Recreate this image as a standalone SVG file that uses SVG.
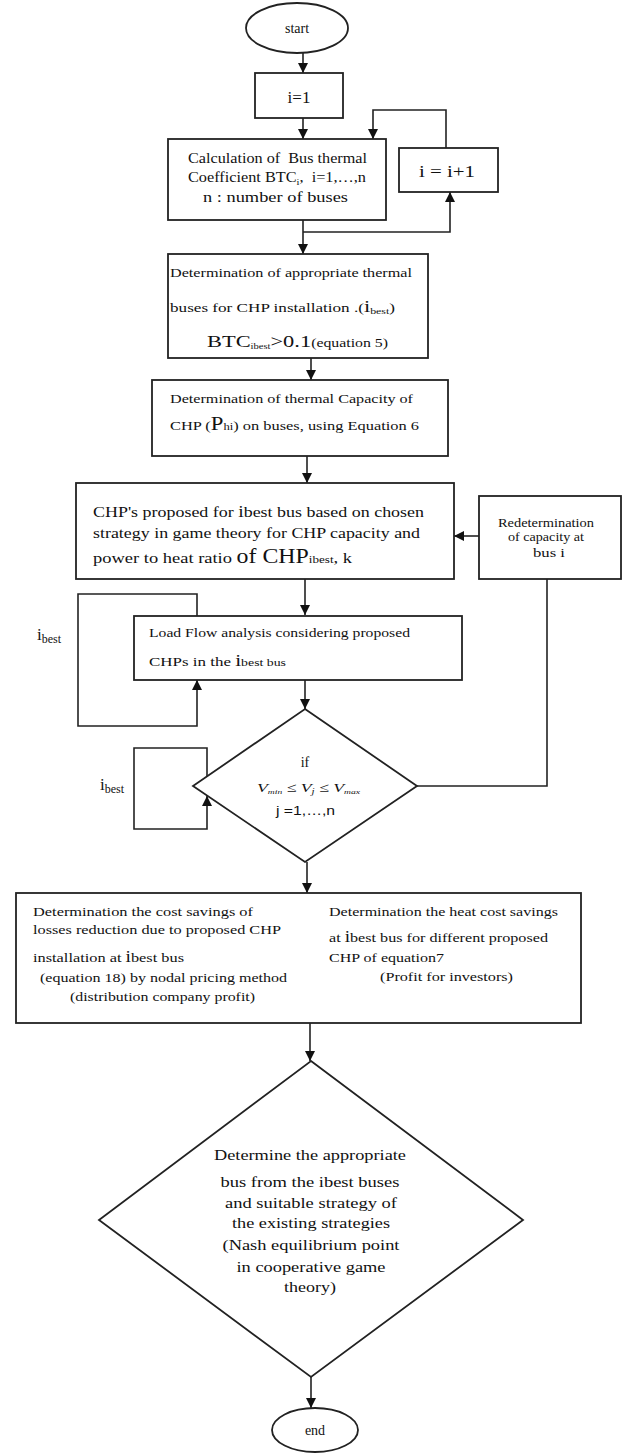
<svg xmlns="http://www.w3.org/2000/svg" width="641" height="1453" viewBox="0 0 641 1453">
<style>
.s{fill:#fff;stroke:#222;stroke-width:1.8}
.c{fill:none;stroke:#222;stroke-width:1.6}
text{font-family:"Liberation Serif","Times New Roman",serif;fill:#111}
.f13{font-size:13px}
.f14{font-size:14px}
.f15{font-size:15px}
</style>
<defs>
<marker id="ah" markerUnits="userSpaceOnUse" markerWidth="10" markerHeight="10" refX="10" refY="5" orient="auto">
<path d="M0,0 L10,5 L0,10 z" fill="#111"/>
</marker>
</defs>
<rect width="641" height="1453" fill="#fff"/>

<g id="connectors">
<line class="c" x1="303" y1="53" x2="303" y2="73" marker-end="url(#ah)"/>
<line class="c" x1="303" y1="118" x2="303" y2="139" marker-end="url(#ah)"/>
<line class="c" x1="303" y1="220" x2="303" y2="254" marker-end="url(#ah)"/>
<polyline class="c" points="303,232 450,232 450,192" marker-end="url(#ah)"/>
<polyline class="c" points="446,148 446,110 373,110 373,139" marker-end="url(#ah)"/>
<line class="c" x1="311" y1="358" x2="311" y2="380" marker-end="url(#ah)"/>
<line class="c" x1="307" y1="456" x2="307" y2="483" marker-end="url(#ah)"/>
<line class="c" x1="305" y1="579" x2="305" y2="615" marker-end="url(#ah)"/>
<line class="c" x1="305" y1="680" x2="305" y2="709" marker-end="url(#ah)"/>
<line class="c" x1="479" y1="536" x2="454" y2="536" marker-end="url(#ah)"/>
<polyline class="c" points="417,786 547,786 547,579"/>
<polyline class="c" points="197,616 197,594 78,594 78,726 197,726 197,680" marker-end="url(#ah)"/>
<polyline class="c" points="207,777 207,748 134,748 134,829 207,829 207,796" marker-end="url(#ah)"/>
<line class="c" x1="307" y1="862" x2="307" y2="893" marker-end="url(#ah)"/>
<line class="c" x1="310" y1="893" x2="310" y2="1061" marker-end="url(#ah)"/>
<line class="c" x1="311" y1="1377" x2="311" y2="1408" marker-end="url(#ah)"/>
</g>

<g id="start">
<ellipse class="s" cx="297" cy="28" rx="51" ry="25"/>
<text class="f14" x="297" y="33" text-anchor="middle">start</text>
</g>

<g id="init">
<rect class="s" x="255" y="73" width="88" height="45"/>
<text x="299" y="103" text-anchor="middle" font-size="17">i=1</text>
</g>

<g id="calc">
<rect class="s" x="168" y="139" width="218" height="81"/>
<text class="f14" x="188" y="163" textLength="179" lengthAdjust="spacingAndGlyphs" xml:space="preserve">Calculation of  Bus thermal</text>
<text class="f14" x="188" y="182" textLength="178" lengthAdjust="spacingAndGlyphs" xml:space="preserve">Coefficient BTC<tspan font-size="9" dy="3">i</tspan><tspan dy="-3">,  i=1,…,n</tspan></text>
<text class="f15" x="203" y="202" textLength="145" lengthAdjust="spacingAndGlyphs">n : number of buses</text>
</g>

<g id="incr">
<rect class="s" x="399" y="148" width="99" height="44"/>
<text x="419" y="177" font-size="16" textLength="56" lengthAdjust="spacingAndGlyphs">i = i+1</text>
</g>

<g id="determ">
<rect class="s" x="168" y="254" width="260" height="104"/>
<text class="f13" x="170" y="277" textLength="242" lengthAdjust="spacingAndGlyphs">Determination of appropriate thermal</text>
<text class="f13" x="170" y="312" textLength="225" lengthAdjust="spacingAndGlyphs">buses for CHP installation .(<tspan font-size="17">i</tspan><tspan font-size="9" dy="2">best</tspan><tspan dy="-2">)</tspan></text>
<text x="207" y="347" textLength="181" lengthAdjust="spacingAndGlyphs"><tspan font-size="17">BTC</tspan><tspan font-size="8" dy="2">ibest</tspan><tspan font-size="17" dy="-2">&gt;0.1</tspan><tspan font-size="12">(equation 5)</tspan></text>
</g>

<g id="thermal">
<rect class="s" x="152" y="380" width="296" height="76"/>
<text class="f13" x="170" y="403" textLength="243" lengthAdjust="spacingAndGlyphs">Determination of thermal Capacity of</text>
<text class="f13" x="170" y="430" textLength="249" lengthAdjust="spacingAndGlyphs">CHP (<tspan font-size="18">P</tspan><tspan font-size="10">hi</tspan>) on buses, using Equation 6</text>
</g>

<g id="chp">
<rect class="s" x="76" y="483" width="378" height="96"/>
<text x="93" y="517" font-size="15.5" textLength="331" lengthAdjust="spacingAndGlyphs">CHP's proposed for <tspan font-size="17">i</tspan>best bus based on chosen</text>
<text x="93" y="538" font-size="15.5" textLength="327" lengthAdjust="spacingAndGlyphs">strategy in game theory for CHP capacity and</text>
<text x="93" y="563" font-size="15.5" textLength="259" lengthAdjust="spacingAndGlyphs">power to heat ratio <tspan font-size="20">of CHP</tspan><tspan font-size="11">ibest</tspan>, k</text>
</g>

<g id="redet">
<rect class="s" x="479" y="496" width="142" height="83"/>
<text x="546" y="527" font-size="12.5" text-anchor="middle" textLength="96" lengthAdjust="spacingAndGlyphs">Redetermination</text>
<text x="546" y="541" font-size="12.5" text-anchor="middle" textLength="76" lengthAdjust="spacingAndGlyphs">of capacity at</text>
<text x="549" y="557" font-size="12.5" text-anchor="middle" textLength="32" lengthAdjust="spacingAndGlyphs">bus i</text>
</g>

<g id="loadflow">
<rect class="s" x="134" y="616" width="328" height="64"/>
<text x="149" y="637" font-size="13.5" textLength="261" lengthAdjust="spacingAndGlyphs">Load Flow analysis considering proposed</text>
<text x="149" y="666" font-size="13.5" textLength="137" lengthAdjust="spacingAndGlyphs">CHPs in the <tspan font-size="17">i</tspan><tspan font-size="11">best bus</tspan></text>
</g>

<g id="label-ibest-1">
<text x="37" y="640" font-size="17">i<tspan font-size="12" dy="3">best</tspan></text>
</g>

<g id="voltage-check">
<polygon class="s" points="305,709 417,786 305,862 193,786"/>
<text x="305" y="767" font-size="14" text-anchor="middle">if</text>
<text x="257" y="792" font-size="13" font-style="italic" textLength="103" lengthAdjust="spacingAndGlyphs">V<tspan font-size="7" dy="2">min</tspan><tspan dy="-2"> ≤ V</tspan><tspan font-size="8" dy="2">j</tspan><tspan dy="-2"> ≤ V</tspan><tspan font-size="7" dy="2">max</tspan></text>
<text x="276" y="815" font-size="13" style="font-family:'Liberation Sans',Arial,sans-serif" textLength="59" lengthAdjust="spacingAndGlyphs">j =1,…,n</text>
</g>

<g id="label-ibest-2">
<text x="100" y="790" font-size="17">i<tspan font-size="12" dy="3">best</tspan></text>
</g>

<g id="savings">
<rect class="s" x="16" y="893" width="565" height="130"/>
<text x="33" y="916" font-size="13.5" textLength="220" lengthAdjust="spacingAndGlyphs">Determination the cost savings of</text>
<text x="33" y="934" font-size="13.5" textLength="248" lengthAdjust="spacingAndGlyphs">losses reduction due to proposed CHP</text>
<text x="33" y="962" font-size="13.5" textLength="151" lengthAdjust="spacingAndGlyphs">installation at <tspan font-size="16">i</tspan>best bus</text>
<text x="40" y="982" font-size="13.5" textLength="247" lengthAdjust="spacingAndGlyphs">(equation 18) by nodal pricing method</text>
<text x="70" y="1001" font-size="13.5" textLength="185" lengthAdjust="spacingAndGlyphs">(distribution company profit)</text>
<text x="329" y="916" font-size="13.5" textLength="229" lengthAdjust="spacingAndGlyphs">Determination the heat cost savings</text>
<text x="329" y="942" font-size="13.5" textLength="219" lengthAdjust="spacingAndGlyphs">at <tspan font-size="16">i</tspan>best bus for different proposed</text>
<text x="329" y="962" font-size="13.5" textLength="115" lengthAdjust="spacingAndGlyphs">CHP of equation7</text>
<text x="380" y="981" font-size="13.5" textLength="133" lengthAdjust="spacingAndGlyphs">(Profit for investors)</text>
</g>

<g id="decision">
<polygon class="s" points="311,1061 523,1220 311,1377 99,1220"/>
<text x="310" y="1160" font-size="15" text-anchor="middle" textLength="192" lengthAdjust="spacingAndGlyphs">Determine the appropriate</text>
<text x="310" y="1187" font-size="15" text-anchor="middle" textLength="179" lengthAdjust="spacingAndGlyphs">bus from the ibest buses</text>
<text x="311" y="1208" font-size="15" text-anchor="middle" textLength="172" lengthAdjust="spacingAndGlyphs">and suitable strategy of</text>
<text x="311" y="1228" font-size="15" text-anchor="middle" textLength="158" lengthAdjust="spacingAndGlyphs">the existing strategies</text>
<text x="311" y="1250" font-size="15" text-anchor="middle" textLength="177" lengthAdjust="spacingAndGlyphs">(Nash equilibrium point</text>
<text x="311" y="1272" font-size="15" text-anchor="middle" textLength="149" lengthAdjust="spacingAndGlyphs">in cooperative game</text>
<text x="310" y="1292" font-size="15" text-anchor="middle" textLength="52" lengthAdjust="spacingAndGlyphs">theory)</text>
</g>

<g id="end">
<ellipse class="s" cx="315" cy="1430" rx="43" ry="22"/>
<text x="315" y="1435" font-size="14" text-anchor="middle">end</text>
</g>
</svg>
